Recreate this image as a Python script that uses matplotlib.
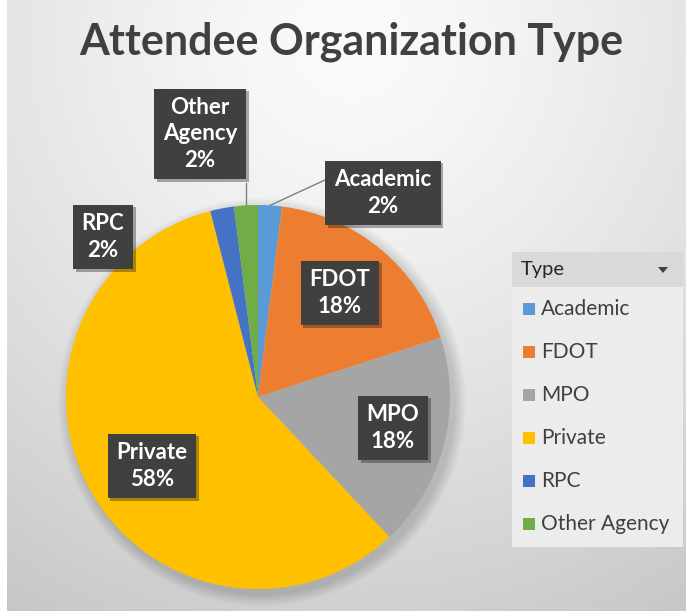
import numpy as np
from matplotlib import pyplot as plt
from matplotlib.patches import Rectangle, Circle, Polygon
import matplotlib.patheffects as pe

categories = ['Academic', 'FDOT', 'MPO', 'Private', 'RPC', 'Other Agency']
counts = [1, 9, 9, 29, 1, 1]
colors = ['#5B9BD5', '#ED7D31', '#A5A5A5', '#FFC000', '#4472C4', '#70AD47']
title = 'Attendee Organization Type'
legend_title = 'Type'

W, H = 686, 611
# label box centres in pixel coords (y from top) -- layout only
label_pos = [(383, 193), (340, 293), (393, 428), (152, 466), (103, 237), (200, 134)]
label_text = ['Academic', 'FDOT', 'MPO', 'Private', 'RPC', 'Other\nAgency']
leader = [True, False, False, False, False, True]

font = 'Lato'
fig = plt.figure(figsize=(W / 100, H / 100), dpi=100)
ax = fig.add_axes([0, 0, 1, 1])
ax.set_xlim(0, W)
ax.set_ylim(0, H)
ax.axis('off')

# background radial gradient
yy, xx = np.mgrid[0:H, 0:W]
d = np.hypot(xx - 350, yy - 40) / 650
g = 0.985 - 0.2 * np.clip(d, 0, 1.2) ** 1.3
g[:, :7] = 1.0
bg = np.dstack([g, g, g])
ax.imshow(bg, extent=(0, W, 0, H), origin='upper', zorder=0)

cx, cy, r = 258, H - 397, 192

# soft pie shadow
for i in range(12):
    ax.add_patch(Circle((cx + 4, cy - 5), r + 12 - i, color='black', alpha=0.012, lw=0, zorder=1))

wedges, _ = ax.pie(counts, colors=colors, startangle=90, counterclock=False,
                   center=(cx, cy), radius=r, frame=True,
                   wedgeprops=dict(linewidth=0, zorder=2))
ax.set_xlim(0, W)
ax.set_ylim(0, H)
ax.set_aspect('equal')
ax.axis('off')

total = sum(counts)
for w, txt, (lx, ly), n, lead in zip(wedges, label_text, label_pos, counts, leader):
    pct = round(100 * n / total)
    t = ax.text(lx, H - ly, f'{txt}\n{pct}%', ha='center', va='center', color='white',
                fontsize=16, fontweight='bold', family=font, linespacing=1.3, zorder=5,
                bbox=dict(boxstyle='square,pad=0.4', fc='#404040', ec='none'))
    t.get_bbox_patch().set_path_effects([pe.SimplePatchShadow(offset=(2, -2), alpha=0.35), pe.Normal()])
    if lead:
        ang = np.deg2rad((w.theta1 + w.theta2) / 2)
        px, py = cx + r * np.cos(ang), cy + r * np.sin(ang)
        if txt == 'Academic':
            ex, ey = 325, H - 180
        else:
            ex, ey = px, H - 183
        ax.plot([px, ex], [py, ey], color='#7f7f7f', lw=1, zorder=4)

ax.text(351, H - 42, title, ha='center', va='center', fontsize=31, fontweight='bold',
        family=font, color='#404040', zorder=5)

# legend
lx0, lx1, ly0, ly1 = 512, 683, 252, 547
ax.add_patch(Rectangle((lx0, H - ly1), lx1 - lx0, ly1 - ly0, fc='#ececec', ec='none', zorder=3))
ax.add_patch(Rectangle((lx0, H - 287), lx1 - lx0, 287 - ly0, fc='#d9d9d9', ec='none', zorder=3))
ax.text(lx0 + 9, H - 270, legend_title, ha='left', va='center', fontsize=14.5, family=font,
        color='#262626', zorder=4)
ax.add_patch(Polygon([(658, H - 267), (668, H - 267), (663, H - 273)], closed=True,
                     fc='#404040', ec='none', zorder=4))
for i, (cat, col) in enumerate(zip(categories, colors)):
    yc = H - (309 + 43 * i)
    ax.add_patch(Rectangle((523, yc - 6), 12, 12, fc=col, ec='none', zorder=4))
    ax.text(541, yc, cat, ha='left', va='center', fontsize=15, family=font,
            color='#404040', zorder=4)

fig.savefig('out.png', dpi=100)
